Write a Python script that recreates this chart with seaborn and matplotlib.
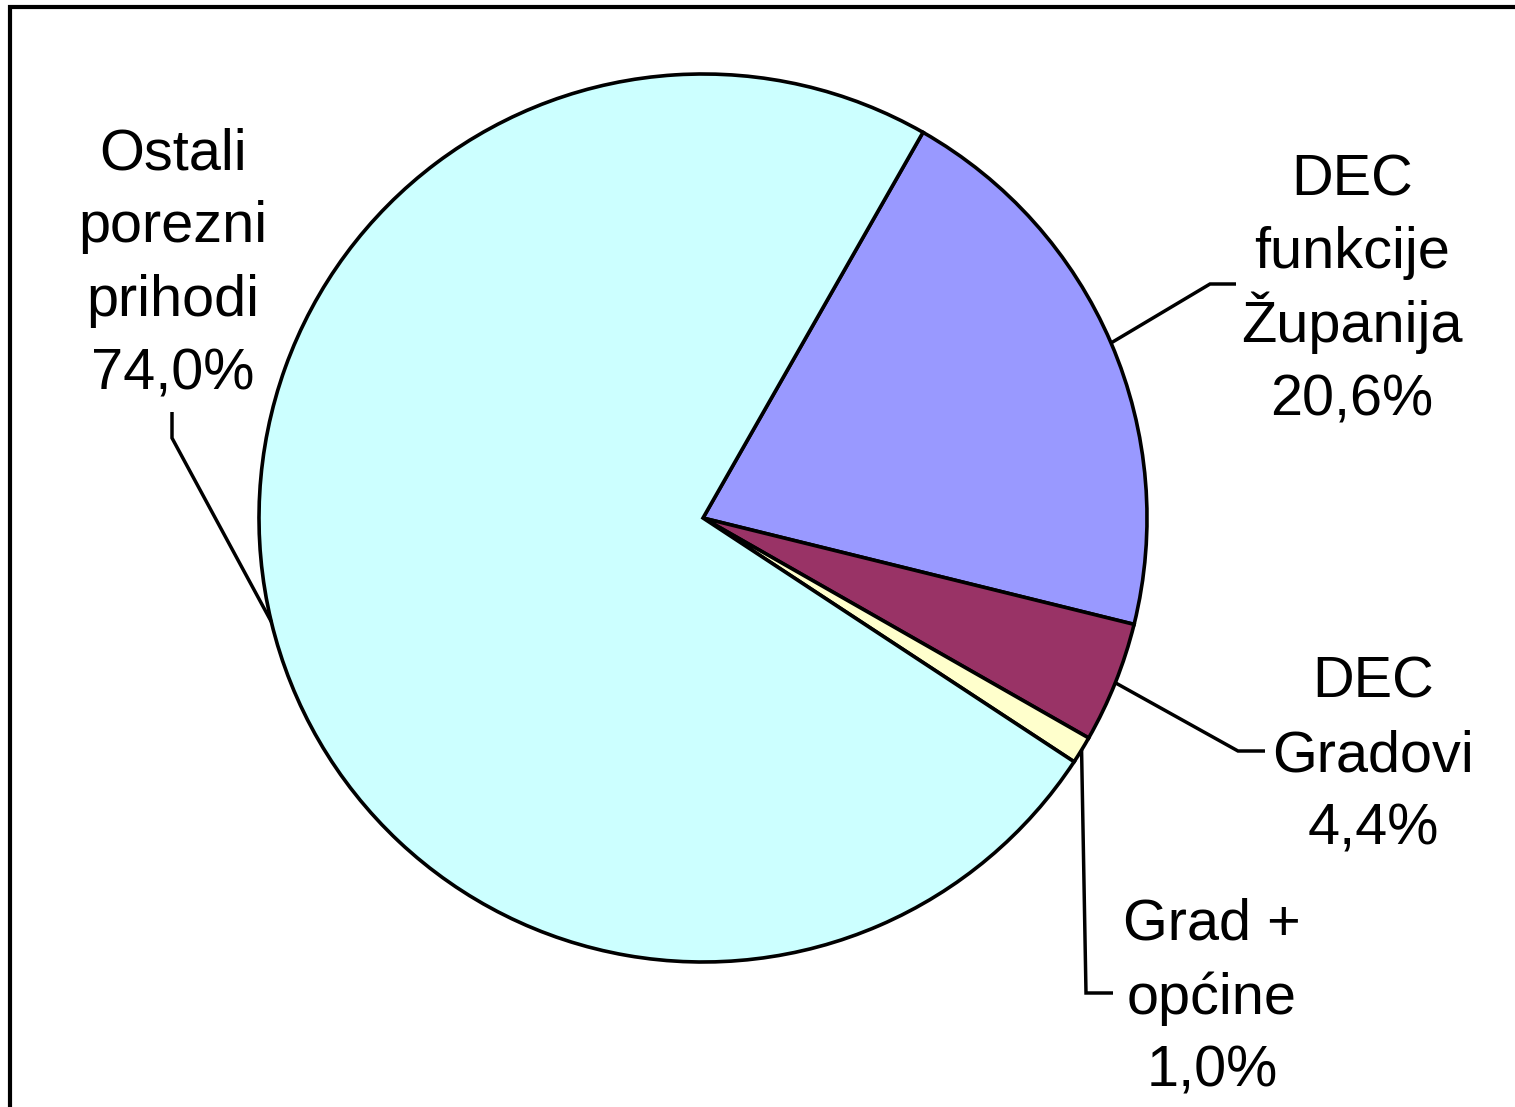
import matplotlib
matplotlib.use("Agg")
import matplotlib.pyplot as plt
import seaborn as sns
import numpy as np
from matplotlib.patches import Rectangle

# ---- data ----
categories = ["DEC funkcije Županija", "DEC Gradovi", "Grad + općine", "Ostali porezni prihodi"]
label_lines = [["DEC", "funkcije", "Županija"],
               ["DEC", "Gradovi"],
               ["Grad +", "općine"],
               ["Ostali", "porezni", "prihodi"]]
shares = [20.6, 4.4, 1.0, 74.0]
colors = ["#9999FF", "#993366", "#FFFFCC", "#CCFFFF"]

# ---- figure setup ----
W, H = 1515, 1107
sns.set_theme(style="white")
plt.rcParams["font.family"] = ["Liberation Sans", "DejaVu Sans"]

fig = plt.figure(figsize=(W / 100, H / 100), dpi=100)
fig.patch.set_facecolor("white")
ax = fig.add_axes([0, 0, 1, 1])


def py(y):
    return H - y


cx, cy, R = 703, 518, 444
wedges, _ = ax.pie(shares, colors=colors, startangle=60.3, counterclock=False,
                   center=(cx, py(cy)), radius=R,
                   wedgeprops=dict(edgecolor="black", linewidth=2.6, joinstyle="miter"))
ax.set_xlim(0, W)
ax.set_ylim(0, H)
ax.set_axis_off()

# layout: text center x, first baseline y, elbow point, end point (pixels)
layout = [
    (1352, 195, (1210, 284), (1236, 284)),
    (1373, 698, (1238, 751), (1265, 751)),
    (1212, 940, (1086, 993), (1113, 993)),
    (173, 169, (172, 438), (172, 412)),
]
step = 73.5
for w, lines, v, (tx, by, elbow, end) in zip(wedges, label_lines, shares, layout):
    mid = np.deg2rad((w.theta1 + w.theta2) / 2)
    sx = cx + R * np.cos(mid)
    sy = py(cy) + R * np.sin(mid)
    ax.plot([sx, elbow[0], end[0]], [sy, py(elbow[1]), py(end[1])],
            color="black", lw=2.5, solid_joinstyle="miter", solid_capstyle="butt")
    pct = f"{v:.1f}".replace(".", ",") + "%"
    for i, t in enumerate(lines + [pct]):
        ax.text(tx, py(by + i * step), t, ha="center", va="baseline",
                fontsize=41.5, color="black")

# outer frame (cut off at right and bottom as in the reference)
fig.patches.append(Rectangle((10 / W, -0.1), 2, (H - 7) / H + 0.1,
                             transform=fig.transFigure, fill=False,
                             edgecolor="black", lw=3.0))

fig.savefig("out.png", dpi=100)
